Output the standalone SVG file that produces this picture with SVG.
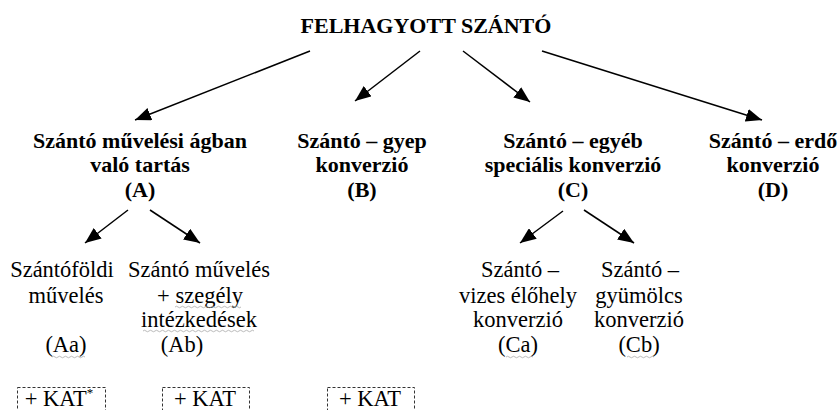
<svg xmlns="http://www.w3.org/2000/svg" width="838" height="410" viewBox="0 0 838 410" font-family="'Liberation Serif', 'Times New Roman', 'DejaVu Serif', serif">
<style>
text{font-family:'Liberation Serif','Times New Roman','DejaVu Serif',serif;fill:#000;text-anchor:middle}
.t{font-size:22px;font-weight:bold}
.b{font-size:22px;font-weight:bold}
.r{font-size:22.5px}
.c line{stroke:#000;stroke-width:1.5;marker-end:url(#ah)}
.kat{fill:none;stroke:#333;stroke-width:1;stroke-dasharray:3 2}
.sq{fill:none;stroke:#aaa;stroke-width:0.8}
</style>
<defs>
<marker id="ah" markerUnits="userSpaceOnUse" markerWidth="16" markerHeight="13" refX="16" refY="6.5" orient="auto">
<path d="M0,0 L16,6.5 L0,13 z" fill="#000"/>
</marker>
</defs>
<rect width="838" height="410" fill="#fff"/>
<g id="root"><text class="t" x="426" y="33">FELHAGYOTT SZÁNTÓ</text></g>
<g id="A"><text class="b" x="140" y="148">Szántó művelési ágban</text><text class="b" x="140" y="172">való tartás</text><text class="b" x="140" y="197">(A)</text></g>
<g id="B"><text class="b" x="362" y="148">Szántó – gyep</text><text class="b" x="362" y="172">konverzió</text><text class="b" x="362" y="197">(B)</text></g>
<g id="C"><text class="b" x="573" y="148">Szántó – egyéb</text><text class="b" x="573" y="172">speciális konverzió</text><text class="b" x="573" y="197">(C)</text></g>
<g id="D"><text class="b" x="773" y="148">Szántó – erdő</text><text class="b" x="773" y="172">konverzió</text><text class="b" x="773" y="197">(D)</text></g>
<g id="Aa"><text class="r" x="62" y="277">Szántóföldi</text><text class="r" x="66" y="303">művelés</text><text class="r" x="66" y="352">(Aa)</text>
<path class="sq" d="M52,357 q1.5,-1.5 3,0 t3,0 t3,0 t3,0 t3,0 t3,0 t3,0 t3,0 t3,0 t3,0 t3,0"/></g>
<g id="Ab"><text class="r" x="199" y="277">Szántó művelés</text><text class="r" x="200" y="303">+ szegély</text><text class="r" x="199" y="327">intézkedések</text><text class="r" x="182" y="352">(Ab)</text>
<path class="sq" d="M175,307 q1.5,-1.5 3,0 t3,0 t3,0 t3,0 t3,0 t3,0 t3,0 t3,0 t3,0 t3,0 t3,0 t3,0 t3,0 t3,0 t3,0 t3,0 t3,0 t3,0 t3,0 t3,0 t3,0 t3,0"/>
<path class="sq" d="M143,331 q1.5,-1.5 3,0 t3,0 t3,0 t3,0 t3,0 t3,0 t3,0 t3,0 t3,0 t3,0 t3,0 t3,0 t3,0 t3,0 t3,0 t3,0 t3,0 t3,0 t3,0 t3,0 t3,0 t3,0 t3,0 t3,0 t3,0 t3,0 t3,0 t3,0 t3,0 t3,0 t3,0 t3,0 t3,0 t3,0 t3,0 t3,0 t3,0"/></g>
<g id="Ca"><text class="r" x="520" y="277">Szántó –</text><text class="r" x="518" y="303">vizes élőhely</text><text class="r" x="518" y="327">konverzió</text><text class="r" x="518" y="352">(Ca)</text>
<path class="sq" d="M506,357 q1.5,-1.5 3,0 t3,0 t3,0 t3,0 t3,0 t3,0 t3,0 t3,0 t3,0"/></g>
<g id="Cb"><text class="r" x="640" y="277">Szántó –</text><text class="r" x="639" y="303">gyümölcs</text><text class="r" x="639" y="327">konverzió</text><text class="r" x="639" y="352">(Cb)</text>
<path class="sq" d="M627,357 q1.5,-1.5 3,0 t3,0 t3,0 t3,0 t3,0 t3,0 t3,0 t3,0 t3,0"/></g>
<g id="kat1"><rect class="kat" x="17.5" y="387.5" width="88" height="40"/><text class="r" x="59" y="406">+ KAT<tspan font-size="13" dy="-9">*</tspan></text></g>
<g id="kat2"><rect class="kat" x="162.5" y="387.5" width="87" height="40"/><text class="r" x="205" y="406">+ KAT</text></g>
<g id="kat3"><rect class="kat" x="327.5" y="387.5" width="87" height="40"/><text class="r" x="370" y="406">+ KAT</text></g>
<g id="connectors" class="c">
<line x1="310" y1="51" x2="135" y2="120"/>
<line x1="420" y1="51" x2="355" y2="101"/>
<line x1="463" y1="51" x2="530" y2="102"/>
<line x1="542" y1="51" x2="762" y2="120"/>
<line x1="128" y1="210" x2="85" y2="243"/>
<line x1="150" y1="210" x2="200" y2="243"/>
<line x1="563" y1="211" x2="520" y2="243"/>
<line x1="584" y1="210" x2="634" y2="243"/>
</g>
</svg>
